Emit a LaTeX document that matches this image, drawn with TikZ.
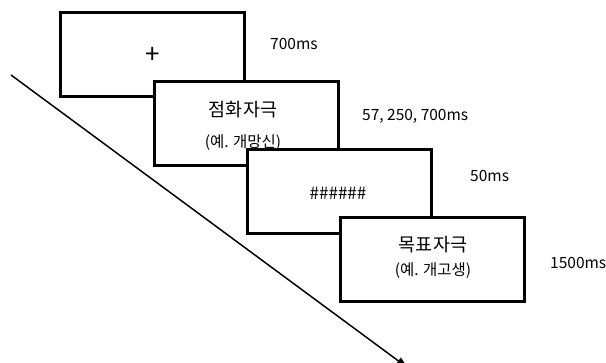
\documentclass[tikz,border=0pt]{standalone}
\usepackage{fontspec}
\setmainfont{Noto Sans CJK KR}
\usetikzlibrary{arrows.meta}
\begin{document}
\begin{tikzpicture}[x=1pt,y=1pt,
  frame/.style={draw=black, line width=3pt, fill=white, minimum width=184pt, minimum height=84pt, inner sep=0pt, align=center},
  big/.style={font=\fontsize{18.5}{22}\selectfont},
  small/.style={font=\fontsize{15.5}{18}\selectfont},
  lab/.style={anchor=west, inner sep=0pt, font=\fontsize{15.5}{18}\selectfont}]
\useasboundingbox (0,0) rectangle (606,363);
% time arrow
\coordinate (ts) at (11,288);
\coordinate (te) at (408,-5);
\draw[line width=1.5pt, -{Triangle[length=12pt,width=8pt]}] (ts) -- (te);
% frames
\node[frame] (b1) at (152.5,308.5) {};
\node[font=\fontsize{26}{28}\selectfont] (t1) at (152.5,308) {+};
\node[frame] (b2) at (246,239.5) {};
\node[big] (t2a) at (243,253) {점화자극};
\node[small] (t2b) at (243,220) {(예. 개망신)};
\node[frame] (b3) at (339,171.5) {};
\node[font=\fontsize{17}{20}\selectfont] (t3) at (338,170) {\#\#\#\#\#\#};
\node[frame] (b4) at (432.5,103) {};
\node[big] (t4a) at (433,118) {목표자극};
\node[small] (t4b) at (433,92) {(예. 개고생)};
% durations
\node[lab] (d1) at (270,319) {700ms};
\node[lab] (d2) at (362,247) {57, 250, 700ms};
\node[lab] (d3) at (470,187) {50ms};
\node[lab] (d4) at (550,100) {1500ms};
\end{tikzpicture}
\end{document}
